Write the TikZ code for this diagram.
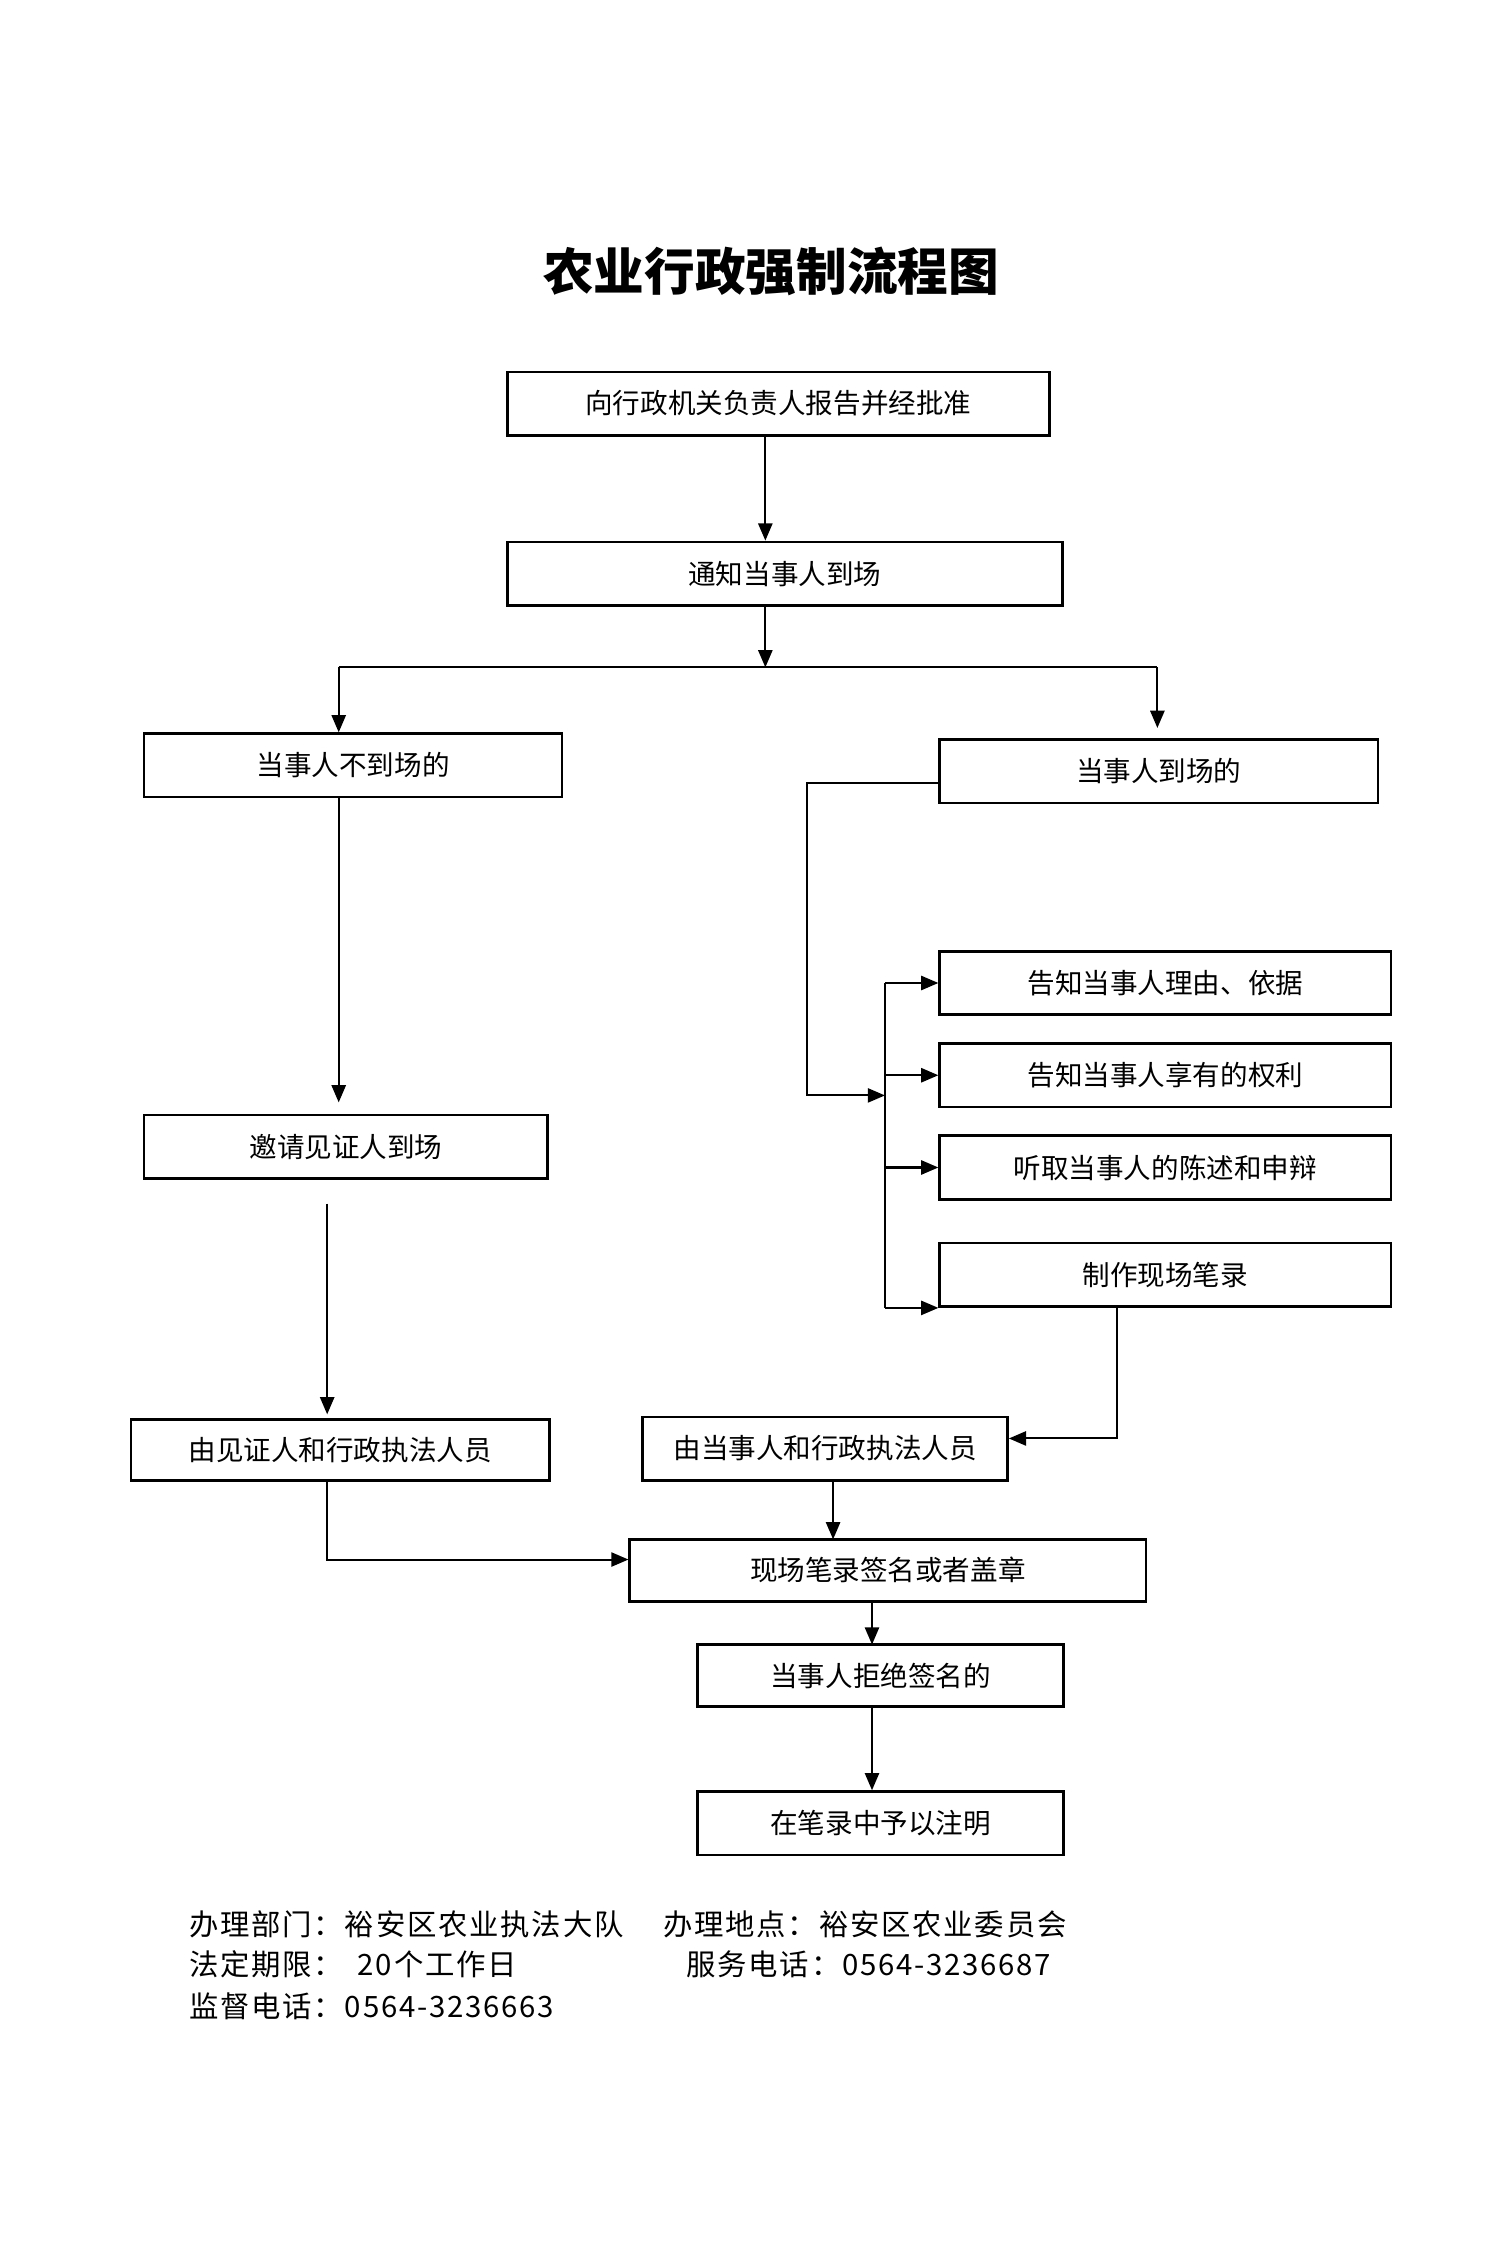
\documentclass[tikz,border=0pt]{standalone}
\usepackage{fontspec}
\setmainfont{Noto Sans CJK SC}
\newfontfamily\footfont[LetterSpace=6]{Noto Sans CJK SC}
\usetikzlibrary{arrows.meta}
\tikzset{
	box/.style={draw, line width=1.3pt, minimum height=1.1cm, inner sep=0pt, font=\fontsize{13.6}{14}\selectfont},
	arr/.style={line width=1pt, -{Triangle[length=8.5pt,width=7pt]}},
	ln/.style={line width=1pt},
	foot/.style={anchor=west, inner sep=0pt, font=\footfont\fontsize{14.5}{14.5}\selectfont}
}
\begin{document}
\begin{tikzpicture}[x=0.025cm,y=-0.025cm]
		\fill[white] (0,0) rectangle (1038,1568);
		\useasboundingbox (0,0) rectangle (1038,1568);
		\node (title) at (535,188) {\fontsize{25}{25}\selectfont\bfseries 农业行政强制流程图};
		% main column
		\node[box,minimum width=9.4cm] (rep) at (540,280) {向行政机关负责人报告并经批准};
		\node[box,minimum width=9.625cm] (notify) at (544.5,398) {通知当事人到场};
		\node[box,minimum width=7.25cm] (absent) at (245,531) {当事人不到场的};
		\node[box,minimum width=7.6cm] (present) at (804,535) {当事人到场的};
		\node[box,minimum width=7cm] (witness) at (240,795.5) {邀请见证人到场};
		\node[box,minimum width=7.25cm,minimum height=1.05cm] (signw) at (236,1006) {由见证人和行政执法人员};
		% steps when present
		\node[box,minimum width=7.825cm] (reason) at (808.5,682) {告知当事人理由、依据};
		\node[box,minimum width=7.825cm] (rights) at (808.5,746) {告知当事人享有的权利};
		\node[box,minimum width=7.825cm] (plea) at (808.5,810) {听取当事人的陈述和申辩};
		\node[box,minimum width=7.825cm] (record) at (808.5,884.5) {制作现场笔录};
		\node[box,minimum width=6.325cm] (signp) at (572.5,1005) {由当事人和行政执法人员};
		\node[box,minimum width=8.95cm,minimum height=1.075cm] (sign) at (616,1089.5) {现场笔录签名或者盖章};
		\node[box,minimum width=6.35cm,minimum height=1.075cm] (refuse) at (611,1162.5) {当事人拒绝签名的};
		\node[box,minimum width=6.35cm] (note) at (611,1265) {在笔录中予以注明};
		% helper points
		\coordinate (split) at (531,463);
		\coordinate (sl) at (235,463);
		\coordinate (sr) at (803,463);
		\coordinate (wl) at (227,835);
		\coordinate (lb) at (227,1082);
		\coordinate (bl) at (560,760);
		\coordinate (bj) at (614,760);
		\coordinate (rt) at (775,998);
		\coordinate (m1) at (578,1068);
		\coordinate (m2) at (605,1141);
		% connectors
		\draw[arr] (rep.south -| split) -- (notify.north -| split);
		\draw[arr] (notify.south -| split) -- (split);
		\draw[ln] (sl) -- (sr);
		\draw[arr] (sl) -- (absent.north -| sl);
		\draw[arr,shorten >=5pt] (sr) -- (present.north -| sr);
		\draw[arr,shorten >=5.5pt] (absent.south -| sl) -- (witness.north -| sl);
		\draw[arr,shorten >=2pt] (wl) -- (signw.north -| wl);
		\draw[arr] (signw.south -| lb) -- (lb) -- (lb -| sign.west);
		\draw[arr] ([yshift=-0.2cm]present.west) -| (bl) -- (bj);
		\draw[ln] (bj |- reason.west) -- (bj |- record.south);
		\draw[arr] (bj |- reason.west) -- (reason.west);
		\draw[arr] (bj |- rights.west) -- (rights.west);
		\draw[arr] (bj |- plea.west) -- (plea.west);
		\draw[arr] (bj |- record.south west) -- (record.south west);
		\draw[arr] (record.south -| rt) -- (rt) -- (rt -| signp.east);
		\draw[arr] (signp.south -| m1) -- (m1);
		\draw[arr] (sign.south -| m2) -- (m2);
		\draw[arr] (refuse.south -| m2) -- (note.north -| m2);
		% footer
		\node[foot] (dept) at (131,1335) {办理部门：裕安区农业执法大队};
		\node[foot] (place) at (460,1335) {办理地点：裕安区农业委员会};
		\node[foot] (days) at (131,1363) {法定期限：\hspace{0.5em}20个工作日};
		\node[foot] (tel) at (476,1363) {服务电话：0564-3236687};
		\node[foot] (super) at (131,1392) {监督电话：0564-3236663};
	\end{tikzpicture}
\end{document}
